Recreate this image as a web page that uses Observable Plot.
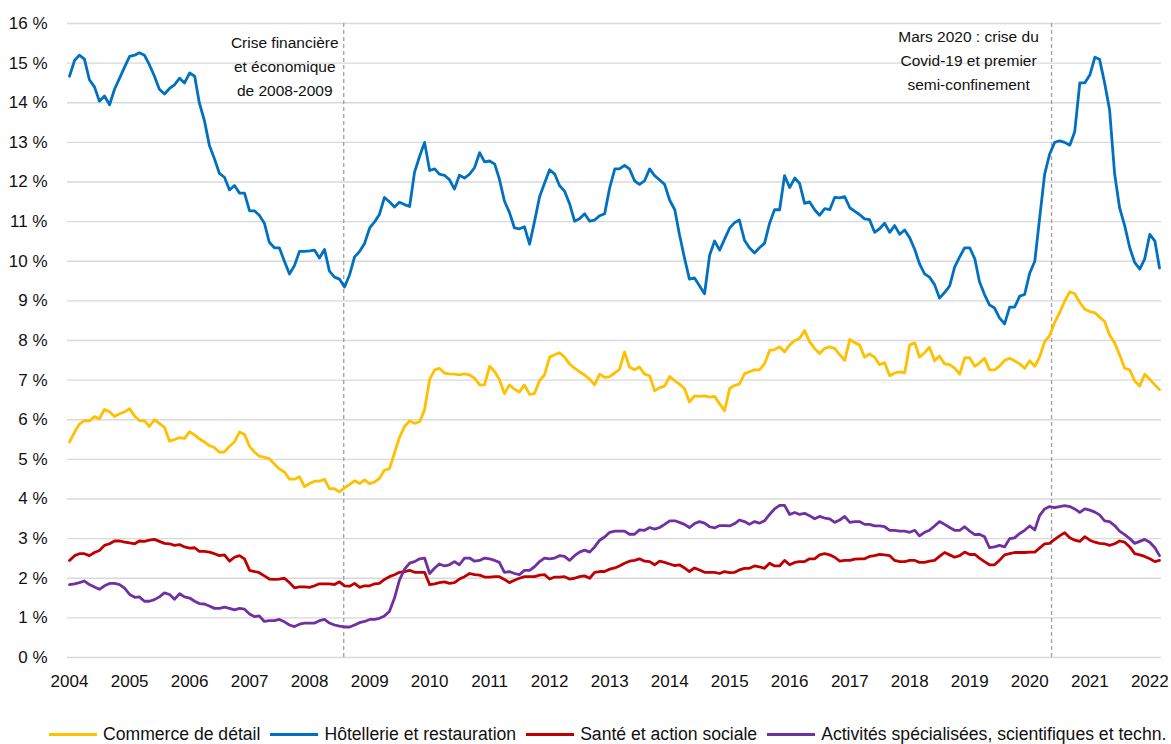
<!DOCTYPE html>
<html>
<head>
<meta charset="utf-8">
<script src="https://cdn.jsdelivr.net/npm/d3@7"></script>
<script src="https://cdn.jsdelivr.net/npm/@observablehq/plot@0.6"></script>
<style>
  body { margin: 0; background: #fff; font-family: "Liberation Sans", Arial, sans-serif; color: #111; }
  #chart svg { display: block; }
  #legend { display: flex; align-items: center; padding-left: 49px; margin-top: 24px; height: 20px; font-size: 17.6px; white-space: nowrap; }
  .item { display: flex; align-items: center; margin-right: 10px; }
  .sw { width: 48px; height: 3px; margin-right: 6px; }
</style>
</head>
<body>
<div id="chart"></div>
<div id="legend"></div>
<script>
// ---- Data (monthly, Jan 2004 -> Mar 2022), in % ----
const startYear = 2004;
const seriesNames = [
  "Commerce de détail",
  "Hôtellerie et restauration",
  "Santé et action sociale",
  "Activités spécialisées, scientifiques et techn."
];
const seriesColors = ["#FFC000", "#0070C0", "#C00000", "#7030A0"];

const commerce = [5.44,5.69,5.89,5.98,5.97,6.08,6.02,6.26,6.2,6.08,6.15,6.2,6.28,6.09,5.98,5.97,5.83,6.0,5.91,5.81,5.46,5.5,5.55,5.53,5.7,5.61,5.52,5.44,5.35,5.3,5.18,5.19,5.33,5.44,5.69,5.63,5.33,5.18,5.08,5.05,5.02,4.88,4.76,4.68,4.5,4.5,4.56,4.31,4.39,4.45,4.45,4.5,4.26,4.26,4.18,4.28,4.37,4.46,4.39,4.48,4.39,4.43,4.52,4.73,4.76,5.16,5.55,5.83,5.97,5.91,5.95,6.25,7.02,7.26,7.3,7.18,7.16,7.15,7.13,7.16,7.13,7.05,6.88,6.88,7.35,7.21,7.02,6.66,6.88,6.77,6.7,6.88,6.64,6.66,6.99,7.13,7.58,7.64,7.69,7.58,7.41,7.3,7.21,7.13,7.02,6.88,7.15,7.07,7.09,7.18,7.27,7.71,7.33,7.26,7.33,7.15,7.11,6.73,6.81,6.85,7.09,6.98,6.9,6.79,6.45,6.6,6.59,6.6,6.57,6.59,6.4,6.23,6.79,6.87,6.9,7.16,7.21,7.26,7.26,7.41,7.75,7.77,7.84,7.71,7.89,8.0,8.05,8.25,7.97,7.8,7.67,7.8,7.84,7.8,7.64,7.5,8.03,7.94,7.89,7.58,7.66,7.58,7.39,7.44,7.11,7.18,7.21,7.18,7.89,7.94,7.58,7.69,7.83,7.49,7.61,7.41,7.39,7.3,7.15,7.56,7.56,7.35,7.43,7.55,7.26,7.26,7.35,7.5,7.55,7.49,7.41,7.3,7.49,7.35,7.58,7.97,8.12,8.46,8.7,8.99,9.23,9.18,8.96,8.79,8.73,8.7,8.59,8.48,8.14,7.94,7.64,7.3,7.26,6.98,6.85,7.15,7.02,6.88,6.76];

const hotellerie = [14.67,15.07,15.2,15.1,14.58,14.4,14.04,14.17,13.95,14.34,14.62,14.9,15.17,15.2,15.26,15.2,14.96,14.67,14.34,14.22,14.36,14.45,14.62,14.5,14.75,14.67,14.0,13.55,12.93,12.59,12.22,12.12,11.8,11.91,11.72,11.72,11.27,11.27,11.16,10.96,10.48,10.34,10.34,10.0,9.68,9.89,10.25,10.25,10.26,10.28,10.08,10.3,9.75,9.6,9.55,9.35,9.66,10.11,10.25,10.45,10.84,11.0,11.18,11.61,11.5,11.37,11.49,11.43,11.38,12.25,12.65,13.0,12.29,12.33,12.2,12.17,12.06,11.82,12.17,12.1,12.2,12.36,12.74,12.51,12.53,12.45,12.08,11.52,11.24,10.84,10.82,10.87,10.43,11.0,11.63,11.97,12.31,12.2,11.91,11.77,11.46,11.01,11.07,11.2,11.01,11.04,11.15,11.2,11.86,12.33,12.33,12.42,12.33,12.03,11.94,12.03,12.33,12.16,12.05,11.94,11.54,11.3,10.68,10.08,9.55,9.58,9.38,9.18,10.15,10.51,10.28,10.56,10.84,10.98,11.04,10.53,10.34,10.21,10.34,10.45,10.96,11.3,11.3,12.16,11.86,12.1,11.97,11.46,11.5,11.3,11.16,11.33,11.3,11.61,11.6,11.63,11.35,11.26,11.18,11.07,11.05,10.73,10.82,10.96,10.73,10.9,10.68,10.79,10.59,10.29,9.94,9.68,9.6,9.41,9.07,9.21,9.38,9.85,10.11,10.34,10.34,10.06,9.49,9.16,8.9,8.82,8.57,8.42,8.84,8.84,9.12,9.16,9.7,10.0,11.07,12.2,12.7,13.0,13.04,13.0,12.93,13.27,14.5,14.5,14.7,15.15,15.1,14.5,13.83,12.2,11.35,10.9,10.34,9.97,9.8,10.06,10.68,10.51,9.83];

const sante = [2.45,2.57,2.62,2.62,2.57,2.65,2.7,2.83,2.87,2.94,2.94,2.91,2.89,2.87,2.94,2.93,2.96,2.98,2.93,2.88,2.87,2.83,2.85,2.79,2.76,2.77,2.68,2.68,2.66,2.62,2.57,2.59,2.43,2.53,2.57,2.49,2.2,2.17,2.14,2.06,1.98,1.97,1.98,2.0,1.89,1.76,1.78,1.78,1.77,1.81,1.86,1.86,1.86,1.84,1.91,1.81,1.8,1.87,1.77,1.81,1.81,1.86,1.87,1.97,2.04,2.09,2.15,2.17,2.2,2.15,2.15,2.15,1.84,1.86,1.89,1.91,1.87,1.89,1.98,2.04,2.12,2.09,2.08,2.03,2.03,2.04,2.04,1.97,1.89,1.95,2.0,2.04,2.04,2.04,2.08,2.09,1.98,2.03,2.03,2.04,1.98,2.0,2.04,2.06,2.0,2.15,2.17,2.17,2.23,2.26,2.31,2.38,2.43,2.45,2.49,2.43,2.42,2.34,2.43,2.4,2.36,2.32,2.34,2.26,2.17,2.26,2.21,2.15,2.15,2.15,2.12,2.17,2.14,2.15,2.21,2.25,2.25,2.31,2.29,2.25,2.38,2.31,2.31,2.45,2.34,2.4,2.42,2.42,2.49,2.49,2.59,2.62,2.59,2.53,2.43,2.45,2.45,2.48,2.49,2.49,2.55,2.57,2.6,2.59,2.57,2.45,2.42,2.42,2.45,2.45,2.4,2.4,2.43,2.45,2.55,2.65,2.59,2.53,2.57,2.66,2.6,2.6,2.51,2.42,2.34,2.34,2.45,2.59,2.62,2.65,2.65,2.65,2.66,2.66,2.76,2.87,2.88,2.98,3.07,3.15,3.02,2.96,2.93,3.05,2.96,2.91,2.88,2.87,2.83,2.87,2.94,2.91,2.79,2.62,2.59,2.55,2.49,2.42,2.45];

const activites = [1.84,1.86,1.89,1.93,1.84,1.78,1.72,1.81,1.87,1.87,1.84,1.75,1.59,1.52,1.53,1.42,1.42,1.46,1.53,1.63,1.59,1.47,1.61,1.53,1.5,1.42,1.36,1.35,1.3,1.24,1.24,1.27,1.24,1.2,1.24,1.22,1.1,1.03,1.05,0.91,0.93,0.93,0.96,0.9,0.82,0.78,0.84,0.87,0.87,0.87,0.93,0.96,0.87,0.82,0.79,0.77,0.77,0.82,0.88,0.91,0.96,0.96,0.99,1.05,1.16,1.5,1.95,2.23,2.38,2.42,2.49,2.51,2.12,2.26,2.36,2.31,2.34,2.42,2.34,2.51,2.51,2.43,2.45,2.51,2.49,2.45,2.4,2.15,2.17,2.12,2.09,2.2,2.2,2.29,2.42,2.51,2.49,2.51,2.57,2.55,2.45,2.57,2.66,2.71,2.66,2.79,2.96,3.04,3.16,3.19,3.19,3.19,3.11,3.11,3.22,3.21,3.28,3.24,3.28,3.36,3.45,3.45,3.41,3.36,3.28,3.38,3.43,3.39,3.3,3.27,3.33,3.33,3.32,3.38,3.47,3.43,3.36,3.43,3.39,3.45,3.61,3.75,3.84,3.84,3.61,3.66,3.61,3.64,3.58,3.5,3.56,3.52,3.5,3.41,3.47,3.56,3.41,3.43,3.43,3.36,3.36,3.32,3.32,3.3,3.21,3.21,3.19,3.19,3.16,3.21,3.07,3.16,3.21,3.32,3.43,3.36,3.28,3.21,3.21,3.3,3.19,3.1,3.11,3.05,2.77,2.79,2.83,2.79,3.0,3.02,3.13,3.21,3.32,3.22,3.58,3.75,3.81,3.78,3.81,3.83,3.81,3.75,3.66,3.75,3.72,3.67,3.6,3.45,3.43,3.33,3.19,3.1,3.0,2.88,2.93,2.98,2.91,2.77,2.57];

const yTicks = [0,1,2,3,4,5,6,7,8,9,10,11,12,13,14,15,16];
const yearTicks = [2004,2005,2006,2007,2008,2009,2010,2011,2012,2013,2014,2015,2016,2017,2018,2019,2020,2021,2022];

const crisisDate = "2008-07-27";
const crisisLabel = "Crise financière\net économique\nde 2008-2009";
const covidDate = "2020-05-13";
const covidLabel = "Mars 2020 : crise du\nCovid-19 et premier\nsemi-confinement";

// ---- Build long table ----
const valueLists = [commerce, hotellerie, sante, activites];
const rows = [];
valueLists.forEach((vals, s) => {
  vals.forEach((v, i) => {
    rows.push({ date: new Date(Date.UTC(startYear, i, 1)), value: v, series: seriesNames[s] });
  });
});
const lastDate = new Date(Date.UTC(startYear, commerce.length - 1, 1));
const tickDates = yearTicks.map(y => new Date(Date.UTC(y, 0, 1)));

const chart = Plot.plot({
  width: 1171,
  height: 700,
  marginLeft: 69,
  marginRight: 12,
  marginTop: 23,
  marginBottom: 43,
  style: { fontFamily: '"Liberation Sans", Arial, sans-serif', fontSize: "17px", color: "#111", background: "#fff" },
  x: { type: "utc", domain: [new Date(Date.UTC(startYear, 0, 1)), lastDate], label: null },
  y: { domain: [0, 16], label: null },
  color: { domain: seriesNames, range: seriesColors },
  marks: [
    Plot.ruleY(yTicks, { stroke: "#d9d9d9", strokeWidth: 1.4, insetLeft: -2, insetRight: -2 }),
    Plot.ruleX([new Date(crisisDate), new Date(covidDate)], { stroke: "#a0a0a0", strokeWidth: 1.3, strokeDasharray: "4,3" }),
    Plot.axisY({ ticks: yTicks, tickSize: 0, tickPadding: 22, tickFormat: d => d + " %", fontSize: 17, label: null }),
    Plot.axisX({ ticks: tickDates, tickSize: 0, tickPadding: 17, tickFormat: d3.utcFormat("%Y"), fontSize: 17, label: null }),
    Plot.line(rows, { x: "date", y: "value", z: "series", stroke: "series", strokeWidth: 2.8 }),
    Plot.text([crisisLabel], { x: () => new Date(crisisDate), frameAnchor: "top", text: d => d, dx: -59, dy: 7, fontSize: 15.5, lineHeight: 1.55, fill: "#111" }),
    Plot.text([covidLabel], { x: () => new Date(covidDate), frameAnchor: "top", text: d => d, dx: -83, dy: 1, fontSize: 15.5, lineHeight: 1.55, fill: "#111" })
  ]
});
document.getElementById("chart").appendChild(chart);

const legend = document.getElementById("legend");
seriesNames.forEach((name, i) => {
  const item = document.createElement("div");
  item.className = "item";
  const sw = document.createElement("div");
  sw.className = "sw";
  sw.style.background = seriesColors[i];
  const label = document.createElement("span");
  label.textContent = name;
  item.appendChild(sw);
  item.appendChild(label);
  legend.appendChild(item);
});
</script>
</body>
</html>
